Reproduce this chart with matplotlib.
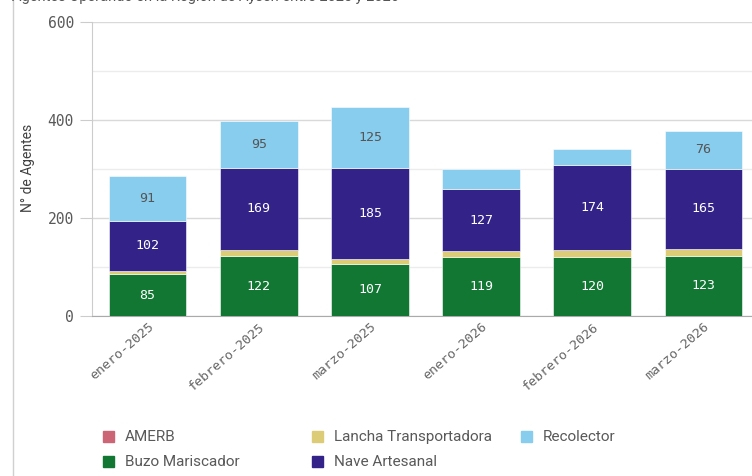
import matplotlib
matplotlib.use("Agg")
import matplotlib.pyplot as plt
from matplotlib.lines import Line2D
import numpy as np

categories = ["enero-2025", "febrero-2025", "marzo-2025", "enero-2026", "febrero-2026", "marzo-2026"]
amerb = [0, 0, 0, 1, 0, 0]
buzo = [85, 122, 107, 119, 120, 123]
lancha = [7, 12, 10, 12, 14, 13]
nave = [102, 169, 185, 127, 174, 165]
recolector = [91, 95, 125, 42, 32, 76]

series_names = ["AMERB", "Buzo Mariscador", "Lancha Transportadora", "Nave Artesanal", "Recolector"]
series_vals = [amerb, buzo, lancha, nave, recolector]
colors = ["#cc6677", "#117733", "#ddcc77", "#332288", "#88ccee"]
label_colors = ["white", "white", "#333333", "white", "#555555"]

W, H = 752, 476
fig = plt.figure(figsize=(W / 100, H / 100), dpi=100)
# axes: left x=92, right ~759, bottom y=316, top y=22
ax = fig.add_axes([92 / W, 1 - 316 / H, (759 - 92) / W, (316 - 22) / H])

x = np.arange(len(categories))
bottom = np.zeros(len(categories))
mono = "DejaVu Sans Mono"
for name, vals, c, lc in zip(series_names, series_vals, colors, label_colors):
    v = np.array(vals, dtype=float)
    ax.bar(x, v, 0.70, bottom=bottom, color=c, edgecolor="white", linewidth=0.4, zorder=3)
    for i in range(len(x)):
        if v[i] >= 60:
            ax.text(x[i], bottom[i] + v[i] / 2, f"{int(v[i])}", ha="center", va="center",
                    color=lc, fontsize=9.5, family=mono, zorder=4)
    bottom += v

ax.set_xlim(-0.5, 5.5)
ax.set_ylim(0, 600)
ax.set_yticks([0, 200, 400, 600])
ax.set_yticks([100, 300, 500], minor=True)
ax.grid(axis="y", which="major", color="#d9d9d9", linewidth=1, zorder=0)
ax.grid(axis="y", which="minor", color="#ececec", linewidth=1, zorder=0)
ax.tick_params(axis="y", which="major", length=9, color="#cccccc", labelcolor="#595959", labelsize=10.5, pad=4)
ax.tick_params(axis="y", which="minor", length=0)
for lab in ax.get_yticklabels():
    lab.set_family(mono)
ax.set_xticks(x)
ax.set_xticklabels(categories, rotation=41, ha="right", rotation_mode="anchor", family=mono,
                   fontsize=9.5, color="#666666")
ax.tick_params(axis="x", length=0, pad=3)
for s in ["top", "right"]:
    ax.spines[s].set_visible(False)
ax.spines["left"].set_color("#cccccc")
ax.spines["bottom"].set_color("#aaaaaa")

fig.text(28 / W, 1 - 168 / H, "N° de Agentes", rotation=90, ha="center", va="center",
         fontsize=10, color="#404040", family="Roboto")

fig.text(12 / W, 1 - 1 / H, "Agentes Operando en la Región de Aysén entre 2025 y 2026",
         ha="left", va="baseline", fontsize=10.5, color="#555555", family="Roboto")

fig.add_artist(Line2D([13 / W, 13 / W], [0, 1], color="#d0d0d0", linewidth=1, transform=fig.transFigure))

# legend
leg_items = [("AMERB", colors[0], 108, 437), ("Lancha Transportadora", colors[2], 317, 437),
             ("Recolector", colors[4], 526, 437), ("Buzo Mariscador", colors[1], 108, 462),
             ("Nave Artesanal", colors[3], 317, 462)]
for name, c, px, py in leg_items:
    fig.patches.append(plt.Rectangle(((px - 5) / W, 1 - (py + 5) / H), 11 / W, 11 / H, color=c,
                                     transform=fig.transFigure, figure=fig))
    fig.text((px + 17) / W, 1 - py / H, name, ha="left", va="center", fontsize=11,
             color="#595959", family="Roboto")

fig.savefig("out.png", dpi=100)
